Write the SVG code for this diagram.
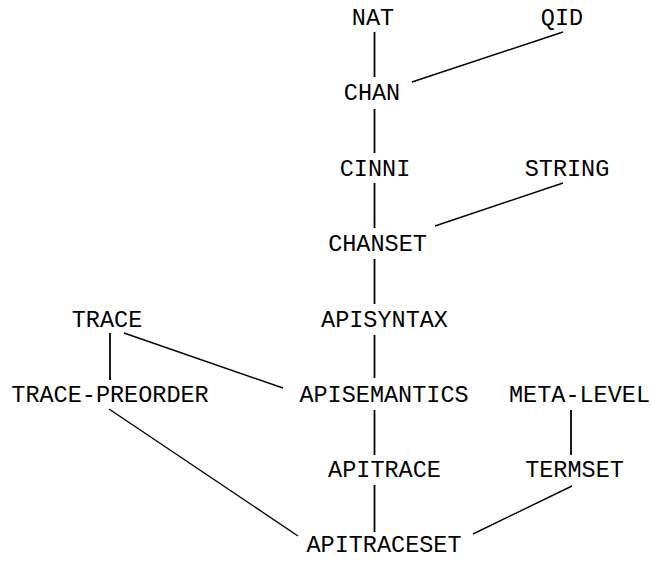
<svg xmlns="http://www.w3.org/2000/svg" width="651" height="561" viewBox="0 0 651 561">
<style>
text{font-family:"Liberation Mono","DejaVu Sans Mono",monospace;font-size:23.5px;fill:#000;text-anchor:middle}
.e line{stroke:#000;stroke-width:1.4;fill:none}
.e line.v{stroke-width:1.8}
</style>
<rect width="651" height="561" fill="#fff"/>
<g id="connectors" class="e">
<line class="v" x1="374.5" y1="32" x2="374.5" y2="77"/>
<line x1="563" y1="32" x2="412" y2="82"/>
<line class="v" x1="374.5" y1="109" x2="374.5" y2="153"/>
<line class="v" x1="374.5" y1="183" x2="374.5" y2="228"/>
<line x1="563" y1="183" x2="435" y2="226"/>
<line class="v" x1="374.5" y1="259" x2="374.5" y2="304"/>
<line class="v" x1="374.5" y1="335" x2="374.5" y2="378"/>
<line class="v" x1="110" y1="333" x2="110" y2="380"/>
<line x1="124" y1="333" x2="283" y2="388"/>
<line x1="109" y1="409" x2="298" y2="536"/>
<line class="v" x1="374.5" y1="410" x2="374.5" y2="455"/>
<line class="v" x1="374.5" y1="485" x2="374.5" y2="532"/>
<line class="v" x1="571" y1="410" x2="571" y2="455"/>
<line x1="572" y1="486" x2="473" y2="534"/>
</g>
<g id="NAT"><text x="373" y="25">NAT</text></g>
<g id="QID"><text x="562" y="25">QID</text></g>
<g id="CHAN"><text x="372" y="100">CHAN</text></g>
<g id="CINNI"><text x="375" y="176">CINNI</text></g>
<g id="STRING"><text x="567" y="176">STRING</text></g>
<g id="CHANSET"><text x="377.5" y="251">CHANSET</text></g>
<g id="APISYNTAX"><text x="384.5" y="327">APISYNTAX</text></g>
<g id="TRACE"><text x="107" y="327">TRACE</text></g>
<g id="TRACE-PREORDER"><text x="110" y="402">TRACE-PREORDER</text></g>
<g id="APISEMANTICS"><text x="384" y="402">APISEMANTICS</text></g>
<g id="META-LEVEL"><text x="579.5" y="402">META-LEVEL</text></g>
<g id="APITRACE"><text x="384.5" y="477">APITRACE</text></g>
<g id="TERMSET"><text x="574.5" y="477">TERMSET</text></g>
<g id="APITRACESET"><text x="384" y="552">APITRACESET</text></g>
</svg>
